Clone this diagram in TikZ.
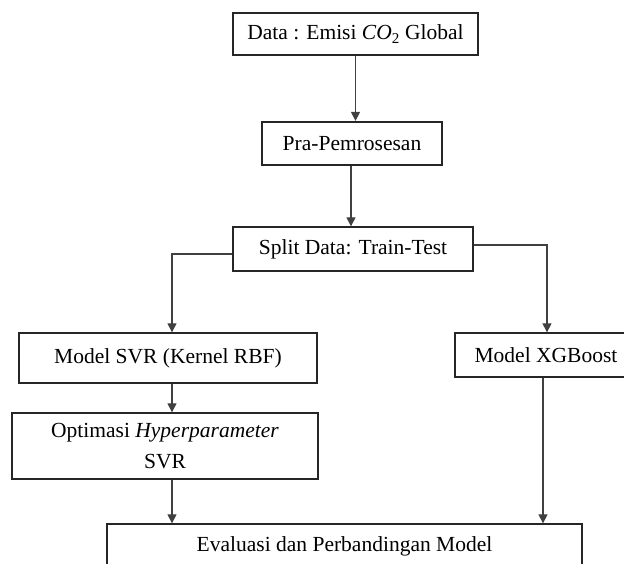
\documentclass[tikz,border=0pt]{standalone}
\usepackage{fontspec}
\setmainfont{Liberation Serif}
\usetikzlibrary{arrows.meta,calc}
\begin{document}
\begin{tikzpicture}[x=1pt,y=-1pt,
  box/.style={draw=black!85,line width=1.3pt,fill=white,inner sep=0pt,align=center,
    font=\fontsize{21.5}{31}\selectfont},
  arr/.style={draw=black!75,line width=1.1pt,-{Triangle[length=9pt,width=9pt]}}]
\useasboundingbox (0,0) rectangle (624,564);
\node[box,minimum width=245,minimum height=42] (b1) at (355.5,34) {Data : Emisi \textit{CO}\textsubscript{2} Global};
\node[box,minimum width=180,minimum height=43,line width=2.2pt] (b2) at (352,143.5) {Pra-Pemrosesan};
\node[box,minimum width=240,minimum height=44] (b3) at (353,249) {Split Data: Train-Test};
\node[box,minimum width=298,minimum height=50] (svr) at (168,358) {Model SVR (Kernel RBF)};
\node[box,minimum width=182,minimum height=44] (xgb) at (546,355) {Model XGBoost};
\node[box,minimum width=306,minimum height=66] (opt) at (165,446) {Optimasi \textit{Hyperparameter}\\SVR};
\node[box,minimum width=475,minimum height=44] (ev) at (344.5,546) {Evaluasi dan Perbandingan Model};
\draw[arr] (b1.south) -- (b1.south |- b2.north);
\draw[arr] ([xshift=-1]b2.south) -- ([xshift=-1]b2.south |- b3.north);
\draw[arr] ([yshift=-5]b3.west) -| ([xshift=4]svr.north);
\draw[arr] ([yshift=4]b3.east) -| ([xshift=1]xgb.north);
\draw[arr] ([xshift=4]svr.south) -- ([xshift=4]svr.south |- opt.north);
\draw[arr] ([xshift=7]opt.south) -- ([xshift=7]opt.south |- ev.north);
\draw[arr] ([xshift=-3]xgb.south) -- ([xshift=-3]xgb.south |- ev.north);
\end{tikzpicture}
\end{document}
